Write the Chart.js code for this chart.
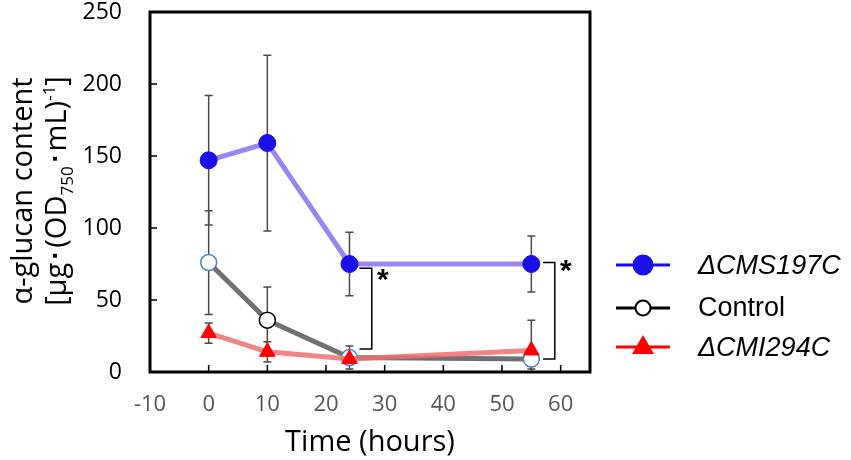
<!DOCTYPE html>
<html>
<head>
<meta charset="utf-8">
<script src="https://cdn.jsdelivr.net/npm/chart.js@4"></script>
<style>
  body { margin:0; background:#fff; }
  #wrap { position:relative; width:851px; height:460px; }
  #ytitle {
    position:absolute; left:-122px; top:157px; width:320px; height:68px;
    transform:rotate(-90deg); text-align:center;
    font-family:"Open Sans", sans-serif; font-size:29px; line-height:34px; color:#000;
    white-space:nowrap;
  }
  #ytitle sub, #ytitle sup { font-size:17px; line-height:0; }
</style>
</head>
<body>
<div id="wrap">
  <canvas id="glucanChart" width="851" height="460"></canvas>
  <div id="ytitle">α-glucan content<br>[μg･(OD<sub>750</sub>･mL)<sup>-1</sup>]</div>
</div>
<script>
// ===============================
// DATA
// ===============================

const times = [0, 10, 24, 55];

const labelsLegend = ["ΔCMS197C", "Control", "ΔCMI294C"];

const cms197c    = [147, 159, 75, 75];
const cms197cErr = [45, 61, 22, 19.5];

const control    = [76, 36, 10, 9];
const controlErr = [36, 23, 8, 7];

const cmi294c    = [27, 14, 9, 15];
const cmi294cErr = [7, 7, 2, 21];

const xTicks = [-10, 0, 10, 20, 30, 40, 50, 60];
const yTicks = [0, 50, 100, 150, 200, 250];

// significance brackets (data units)
const bracketX      = [27.8, 59];
const bracketLeft   = [25.7, 57];
const bracketTop    = [72, 76];
const bracketBottom = [16, 9];

// ===============================
// HELPERS
// ===============================

function points(ys){
    return times.map((t,i)=>({x:t, y:ys[i]}));
}

const errors = [cms197cErr, cmi294cErr, controlErr];

// ===============================
// PLUGINS
// ===============================

const errorBars = {
    id:"errorBars",
    beforeDatasetsDraw(chart){
        const c = chart.ctx;
        const xs = chart.scales.x, ys = chart.scales.y;
        const area = chart.chartArea;
        c.save();
        c.beginPath();
        c.rect(area.left, area.top, area.right-area.left, area.bottom-area.top);
        c.clip();
        c.strokeStyle = "#4a4a4a";
        c.lineWidth = 1.5;
        chart.data.datasets.forEach((ds,di)=>{
            ds.data.forEach((p,i)=>{
                const e = errors[di][i];
                const px = xs.getPixelForValue(p.x);
                const top = ys.getPixelForValue(p.y + e);
                const bot = ys.getPixelForValue(p.y - e);
                c.beginPath();
                c.moveTo(px, top); c.lineTo(px, bot);
                c.moveTo(px-4, top); c.lineTo(px+4, top);
                c.moveTo(px-4, bot); c.lineTo(px+4, bot);
                c.stroke();
            });
        });
        c.restore();
    }
};

const frame = {
    id:"frame",
    afterDraw(chart){
        const c = chart.ctx;
        const a = chart.chartArea;
        const xs = chart.scales.x, ys = chart.scales.y;
        c.save();

        // inner ticks
        c.strokeStyle = "#000";
        c.lineWidth = 1.5;
        c.beginPath();
        xTicks.forEach(v=>{
            const px = xs.getPixelForValue(v);
            c.moveTo(px, a.bottom); c.lineTo(px, a.bottom-7);
        });
        yTicks.forEach(v=>{
            const py = ys.getPixelForValue(v);
            c.moveTo(a.left, py); c.lineTo(a.left+7, py);
        });
        c.stroke();

        // box
        c.lineWidth = 3;
        c.strokeRect(a.left, a.top, a.right-a.left, a.bottom-a.top);

        // brackets + asterisks
        c.lineWidth = 1.5;
        c.fillStyle = "#000";
        c.font = "bold 30px 'Liberation Sans', sans-serif";
        c.textAlign = "center";
        c.textBaseline = "middle";
        bracketX.forEach((bx,i)=>{
            const x1 = xs.getPixelForValue(bracketLeft[i]);
            const x2 = xs.getPixelForValue(bx);
            const y1 = ys.getPixelForValue(bracketTop[i]);
            const y2 = ys.getPixelForValue(bracketBottom[i]);
            c.beginPath();
            c.moveTo(x1, y1); c.lineTo(x2, y1); c.lineTo(x2, y2); c.lineTo(x1, y2);
            c.stroke();
            c.fillText("*", x2+11, y1+ (i===0 ? 12 : 9));
        });

        // legend
        const rows = [265, 308, 347];
        const lineCol = ["#1010f0", "#000", "#ff0000"];
        const ds = [chart.data.datasets[0], chart.data.datasets[2], chart.data.datasets[1]];
        rows.forEach((ry,i)=>{
            c.strokeStyle = lineCol[i];
            c.lineWidth = 3;
            c.beginPath();
            c.moveTo(616, ry); c.lineTo(670, ry);
            c.stroke();
            const d = ds[i];
            c.lineWidth = 2;
            if(d.pointStyle === "triangle"){
                c.fillStyle = "#ff0000";
                c.beginPath();
                c.moveTo(643, ry-12); c.lineTo(654, ry+7); c.lineTo(632, ry+7);
                c.closePath(); c.fill();
            }else{
                c.fillStyle = i===0 ? "#1a10e8" : "#fff";
                c.strokeStyle = i===0 ? "#1a10e8" : "#000";
                c.beginPath();
                c.arc(643, ry, i===0 ? 9.5 : 7.5, 0, Math.PI*2);
                c.fill(); c.stroke();
            }
            c.fillStyle = "#000";
            c.textAlign = "left";
            c.font = (i===1 ? "" : "italic ") + "27px 'Liberation Sans', sans-serif";
            c.fillText(labelsLegend[i], 698, ry+1);
        });

        c.restore();
    }
};

// ===============================
// CHART
// ===============================

const ctx = document.getElementById("glucanChart").getContext("2d");

const chart = new Chart(ctx,{
    type:"line",
    data:{
        datasets:[
            {
                label:labelsLegend[0],
                data:points(cms197c),
                borderColor:"#9a86f2",
                borderWidth:5,
                pointStyle:"circle",
                pointRadius:8.5,
                pointBackgroundColor:"#1a10e8",
                pointBorderColor:"#1a10e8",
                pointBorderWidth:1
            },
            {
                label:labelsLegend[2],
                data:points(cmi294c),
                borderColor:"rgba(240,110,110,0.85)",
                borderWidth:5,
                pointStyle:"triangle",
                pointRadius:9,
                pointBackgroundColor:"#ff0000",
                pointBorderColor:"#ff0000",
                pointBorderWidth:1
            },
            {
                label:labelsLegend[1],
                data:points(control),
                borderColor:"#707070",
                borderWidth:5,
                pointStyle:"circle",
                pointRadius:8,
                pointBackgroundColor:"#fff",
                pointBorderColor:["#4a80c4","#000","#4a80c4","#4a80c4"],
                pointBorderWidth:1.5
            }
        ]
    },
    options:{
        responsive:false,
        animation:false,
        devicePixelRatio:1,
        layout:{ padding:{ left:0, right:261, top:12, bottom:0 } },
        plugins:{
            legend:{ display:false },
            tooltip:{ enabled:false }
        },
        elements:{ line:{ tension:0 } },
        scales:{
            x:{
                type:"linear",
                min:-10,
                max:65,
                afterBuildTicks(scale){
                    scale.ticks = xTicks.map(v=>({value:v}));
                },
                afterFit(scale){
                    scale.height = 88;
                    scale.paddingLeft = 0;
                    scale.paddingRight = 0;
                },
                grid:{ display:false },
                border:{ display:false },
                ticks:{
                    color:"#555",
                    padding:12,
                    font:{ family:"'Open Sans', sans-serif", size:22 }
                },
                title:{
                    display:true,
                    text:"Time (hours)",
                    color:"#000",
                    padding:{ top:2, bottom:0 },
                    font:{ family:"'Open Sans', sans-serif", size:29 }
                }
            },
            y:{
                min:0,
                max:250,
                afterBuildTicks(scale){
                    scale.ticks = yTicks.map(v=>({value:v}));
                },
                afterFit(scale){
                    scale.width = 150;
                    scale.paddingTop = 0;
                    scale.paddingBottom = 0;
                },
                grid:{ display:false },
                border:{ display:false },
                ticks:{
                    color:"#000",
                    padding:20,
                    font:{ family:"'Open Sans', sans-serif", size:23 }
                }
            }
        }
    },
    plugins:[errorBars, frame]
});
</script>
</body>
</html>
